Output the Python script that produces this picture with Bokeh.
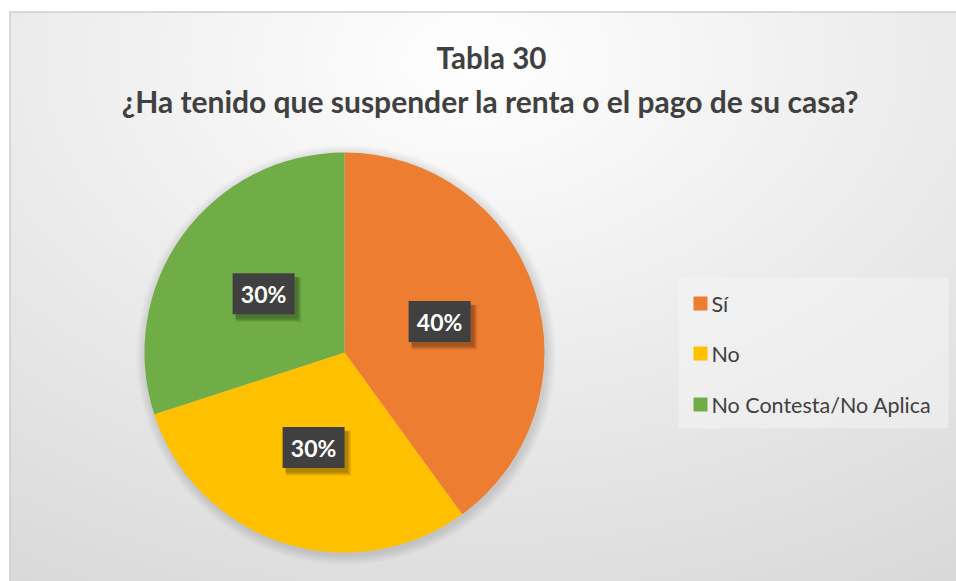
import numpy as np
from bokeh.plotting import figure
from bokeh.models import Range1d
from bokeh.core.properties import value
from bokeh.embed import file_html
from bokeh.resources import INLINE

# ---- data ----
title_line1 = "Tabla 30"
title_line2 = "¿Ha tenido que suspender la renta o el pago de su casa?"
categories = ["Sí", "No", "No Contesta/No Aplica"]
shares = [0.40, 0.30, 0.30]
labels = ["40%", "30%", "30%"]
colors = ["#ED7D31", "#FFC000", "#70AD47"]

W, H = 956, 581
def sx(x):
    return x
def sy(y):
    return H - y

p = figure(width=W, height=H, output_backend="svg", toolbar_location=None,
           x_range=Range1d(0, W), y_range=Range1d(0, H), min_border=0)
p.axis.visible = False
p.grid.visible = False
p.outline_line_color = None
p.background_fill_color = "white"
p.border_fill_color = "white"

# ---- background gradient (chart area) ----
gw, gh = 947, 570
xs = np.arange(gw)[None, :] + 9.0
ys = np.arange(gh)[:, None] + 11.0  # screen y from top
d = np.sqrt(((xs - 470) / 620.0) ** 2 + ((ys - 60) / 420.0) ** 2)
c = np.clip(255 - 26 * d, 212, 255).astype(np.uint8)
img = np.zeros((gh, gw), dtype=np.uint32)
view = img.view(dtype=np.uint8).reshape((gh, gw, 4))
view[:, :, 0] = c
view[:, :, 1] = c
view[:, :, 2] = c
view[:, :, 3] = 255
img = img[::-1]  # bokeh rows go upward
p.image_rgba(image=[img], x=sx(9), y=sy(581), dw=gw, dh=gh)
p.quad(left=[sx(9.5)], right=[sx(970)], top=[sy(11.5)], bottom=[sy(600)],
       fill_color=None, line_color="#cfcfcf", line_width=1.5)

# ---- titles ----
p.text(x=[sx(491)], y=[sy(57)], text=[title_line1], text_font=value("Lato"),
       text_font_style="bold", text_font_size="29.5px", text_color="#404040",
       text_align="center", text_baseline="middle")
p.text(x=[sx(490)], y=[sy(100)], text=[title_line2], text_font=value("Lato"),
       text_font_style="bold", text_font_size="30px", text_color="#404040",
       text_align="center", text_baseline="middle")

# ---- pie ----
cx, cy, R = sx(344), sy(352), 200
# soft shadow
for i in range(10):
    p.circle(x=[cx + 1.5], y=[cy - 2.5], radius=R + 10 - i, radius_units="screen",
             fill_color="black", fill_alpha=0.012, line_color=None)

cum = np.concatenate([[0], np.cumsum(shares)])
starts = np.pi / 2 - cum[:-1] * 2 * np.pi
ends = np.pi / 2 - cum[1:] * 2 * np.pi
p.wedge(x=cx, y=cy, radius=R, radius_units="screen", start_angle=starts, end_angle=ends,
        direction="clock", fill_color=colors, line_color=None)

mids = (starts + ends) / 2
lx = cx + 0.5 * R * np.cos(mids)
ly = cy + 0.5 * R * np.sin(mids)
for k, a in [(3, 0.10), (2, 0.12), (1, 0.12)]:
    p.rect(x=lx + 2 + k, y=ly - 3 - k, width=62 + k, height=41 + k, width_units="screen",
           height_units="screen", fill_color="black", fill_alpha=a, line_color=None)
p.rect(x=lx, y=ly, width=62, height=41, width_units="screen", height_units="screen",
       fill_color="#404040", line_color=None)
p.text(x=lx, y=ly, text=labels, text_font=value("Lato"), text_font_style="bold",
       text_font_size="23px", text_color="white", text_align="center",
       text_baseline="middle")

# ---- legend ----
p.quad(left=[sx(678)], right=[sx(948)], top=[sy(277)], bottom=[sy(428)],
       fill_color="#f4f4f4", fill_alpha=0.55, line_color=None)
leg_y = [sy(303), sy(353), sy(404)]
p.rect(x=[sx(700)] * 3, y=leg_y, width=14, height=14, width_units="screen",
       height_units="screen", fill_color=colors, line_color=None)
p.text(x=[sx(711)] * 3, y=leg_y, text=categories, text_font=value("Lato"),
       text_font_size="21.5px", text_color="#404040", text_align="left",
       text_baseline="middle")

open("out.html", "w").write(file_html(p, INLINE))
